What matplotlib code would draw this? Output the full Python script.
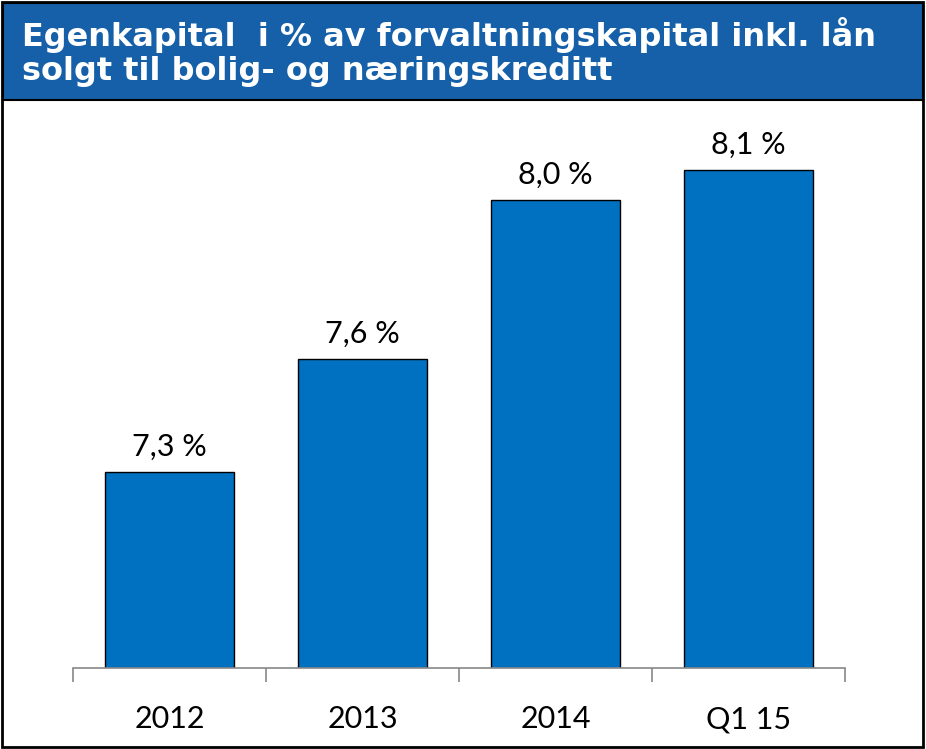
import matplotlib.pyplot as plt
from matplotlib.patches import Rectangle

# data
categories = ["2012", "2013", "2014", "Q1 15"]
values = [7.3, 7.6, 8.02, 8.1]
labels = ["7,3 %", "7,6 %", "8,0 %", "8,1 %"]
title = "Egenkapital  i % av forvaltningskapital inkl. lån\nsolgt til bolig- og næringskreditt"

fig = plt.figure(figsize=(9.26, 7.49), dpi=100)
W, H = 926, 749

# title banner
fig.patches.append(Rectangle((3 / W, 1 - 100 / H), 920 / W, 97 / H, transform=fig.transFigure,
                             facecolor="#1560A8", edgecolor="black", lw=1.5, zorder=0))
fig.text(22 / W, 1 - 52 / H, title, color="white", fontsize=23, fontweight="bold",
         family="DejaVu Sans", va="center", ha="left", linespacing=1.1)
# outer frame
fig.patches.append(Rectangle((2 / W, 2 / H), 921 / W, 745 / H, transform=fig.transFigure,
                             facecolor="none", edgecolor="black", lw=2, zorder=5))

ax = fig.add_axes([73 / W, 81 / H, 772 / W, 558 / H])
x = range(len(categories))
bars = ax.bar(x, values, width=0.67, color="#0070C0", edgecolor="black", linewidth=1, zorder=2)
ax.set_xlim(-0.5, 3.5)
ax.set_ylim(6.78, 8.26)

for xi, v, lab in zip(x, values, labels):
    ax.text(xi, v + 0.03, lab, ha="center", va="bottom", fontsize=22, family="Lato")

for s in ["top", "right", "left"]:
    ax.spines[s].set_visible(False)
ax.spines["bottom"].set_color("#888888")
ax.spines["bottom"].set_linewidth(1.2)
ax.set_yticks([])
ax.set_xticks([-0.5, 0.5, 1.5, 2.5, 3.5])
ax.set_xticklabels([])
ax.tick_params(axis="x", length=10, color="#888888", width=1.2)
ax.set_xticks(list(x), minor=True)
ax.set_xticklabels(categories, minor=True, fontsize=22, family="Lato")
ax.tick_params(axis="x", which="minor", length=0, pad=27)

fig.savefig("out.png", dpi=100)
